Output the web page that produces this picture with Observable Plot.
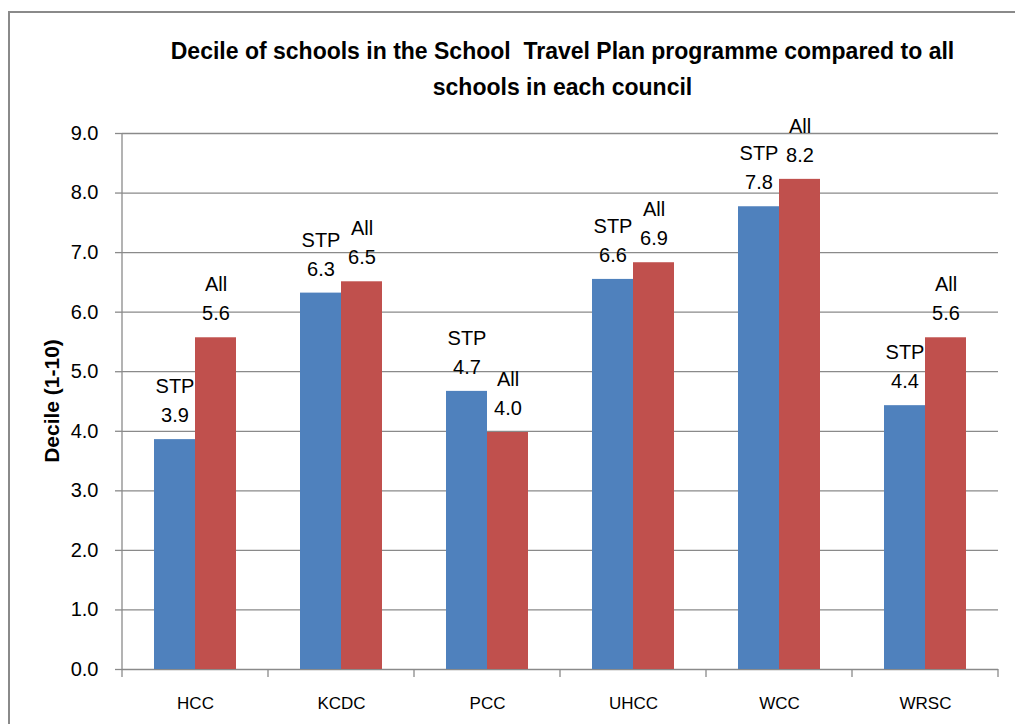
<!DOCTYPE html>
<html>
<head>
<meta charset="utf-8">
<script src="https://cdn.jsdelivr.net/npm/d3@7"></script>
<script src="https://cdn.jsdelivr.net/npm/@observablehq/plot@0.6"></script>
<style>
  html, body { margin: 0; padding: 0; background: #fff; }
  #wrap { position: relative; width: 1015px; height: 724px; overflow: hidden; background: #fff; }
  #frame { position: absolute; left: 8px; top: 11px; width: 1100px; height: 800px; border-left: 2px solid #8a8a8a; border-top: 2px solid #8a8a8a; }
  #title { position: absolute; left: 120px; width: 885px; top: 33px; text-align: center;
           font-family: "Liberation Sans Narrow", "Liberation Sans", sans-serif; font-weight: bold;
           font-size: 23px; line-height: 36px; color: #000; }
  #ylabel { position: absolute; left: 52px; top: 401px; transform: translate(-50%, -50%) rotate(-90deg);
            font-family: "Liberation Sans Narrow", "Liberation Sans", sans-serif; font-weight: bold; font-size: 21px; white-space: nowrap; }
  #chart { position: absolute; left: 0; top: 0; }
</style>
</head>
<body>
<div id="wrap">
  <div id="chart"></div>
  <div id="frame"></div>
  <div id="title">Decile of schools in the School&nbsp; Travel Plan programme compared to all<br>schools in each council</div>
  <div id="ylabel">Decile (1-10)</div>
</div>
<script>
const categories = ["HCC", "KCDC", "PCC", "UHCC", "WCC", "WRSC"];
const series = ["STP", "All"];
const stpValues = [3.86, 6.32, 4.67, 6.55, 7.77, 4.43];
const allValues = [5.57, 6.51, 3.98, 6.83, 8.23, 5.57];
const stpLabels = ["3.9", "6.3", "4.7", "6.6", "7.8", "4.4"];
const allLabels = ["5.6", "6.5", "4.0", "6.9", "8.2", "5.6"];
const yTicks = [0, 1, 2, 3, 4, 5, 6, 7, 8, 9];
const colors = ["#4F81BD", "#C0504D"];

const data = categories.flatMap((c, i) => [
  {category: c, series: "STP", value: stpValues[i], label: stpLabels[i]},
  {category: c, series: "All", value: allValues[i], label: allLabels[i]}
]);

const font = '"Liberation Sans Narrow", "Liberation Sans", sans-serif';
const grid = "#8a8a8a";

const plot = Plot.plot({
  width: 1015,
  height: 724,
  marginLeft: 120,
  marginRight: 15,
  marginTop: 133,
  marginBottom: 55,
  style: {fontFamily: font, background: "transparent", color: "#000", overflow: "visible"},
  fx: {domain: categories, padding: 0, label: null, axis: "bottom", tickSize: 0, tickPadding: 27},
  x: {domain: series, paddingInner: 0, paddingOuter: 0.76, axis: null},
  y: {domain: [0, 9], ticks: yTicks, tickFormat: d => d.toFixed(1), label: null, tickSize: 7, tickPadding: 17},
  color: {domain: series, range: colors},
  marks: [
    Plot.ruleY(yTicks, {stroke: grid, strokeWidth: 1.3}),
    Plot.barY(data, {fx: "category", x: "series", y: "value", fill: "series"}),
    Plot.text(data, {fx: "category", x: "series", y: "value", text: "series", dy: -53, fontSize: 20}),
    Plot.text(data, {fx: "category", x: "series", y: "value", text: "label", dy: -24, fontSize: 20})
  ]
});

document.getElementById("chart").appendChild(plot);

const svg = d3.select(plot);
svg.selectAll('[aria-label="y-axis tick"] path').attr("stroke", grid).attr("stroke-width", 1.3);
svg.selectAll('[aria-label="y-axis tick label"], [aria-label="y-axis tick label"] text').style("font-size", "20px");
svg.selectAll('[aria-label="fx-axis tick label"], [aria-label="fx-axis tick label"] text').style("font-size", "17px");

const fx = plot.scale("fx");
const y = plot.scale("y");
const bw = fx.bandwidth;
const bounds = categories.map(c => fx.apply(c)).concat([fx.apply(categories[categories.length - 1]) + bw]);
const g = svg.append("g").attr("stroke", grid).attr("stroke-width", 1.3);
g.append("line").attr("x1", bounds[0]).attr("x2", bounds[0]).attr("y1", y.apply(9)).attr("y2", y.apply(0));
bounds.forEach(b => {
  g.append("line").attr("x1", b).attr("x2", b).attr("y1", y.apply(0)).attr("y2", y.apply(0) + 8);
});
</script>
</body>
</html>
